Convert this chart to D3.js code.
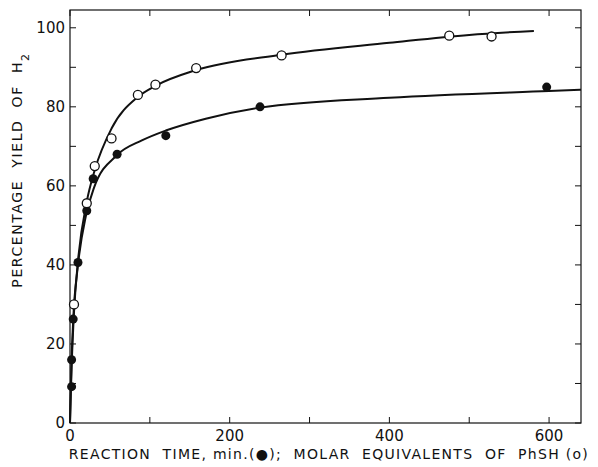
<!DOCTYPE html>
<html>
<head>
<meta charset="utf-8">
<script src="https://cdn.jsdelivr.net/npm/d3@7"></script>
<style>
  body { margin: 0; background: #fff; }
  svg text { font-family: "DejaVu Sans", sans-serif; fill: #111; white-space: pre; }
</style>
</head>
<body>
<svg id="chart" width="598" height="467"></svg>
<script>
// filled circles: reaction time (min) vs yield
var timeX = [2, 2, 4, 10, 21, 29, 59, 120, 238, 597];
var timeY = [9.2, 16, 26.3, 40.6, 53.7, 61.8, 68, 72.7, 80, 85];
// open circles: molar equivalents PhSH vs yield
var equivX = [5, 21, 31, 52, 85, 107, 158, 265, 475, 528];
var equivY = [30, 55.6, 65, 72, 83, 85.6, 89.8, 93, 98, 97.8];

// drawn fit curves
var timeCurveX = [0, 1, 2, 4, 10, 20, 30, 59, 90, 120, 170, 238, 400, 600, 640];
var timeCurveY = [0, 9, 16, 26, 40, 52.5, 59.5, 67.8, 71.5, 74, 77, 79.8, 82.3, 84, 84.3];
var equivCurveX = [0, 2, 5, 10, 21, 31, 52, 85, 107, 158, 265, 400, 500, 581];
var equivCurveY = [0, 14, 28, 41, 56, 64, 74.5, 82.5, 85.3, 89.3, 93.2, 96.2, 98.2, 99.2];

var xTicks = [0, 200, 400, 600];
var yTicks = [0, 20, 40, 60, 80, 100];

var svg = d3.select("#chart");
var plotL = 70, plotR = 581, plotT = 10, plotB = 423;

var x = d3.scaleLinear().domain([0, 640]).range([plotL, plotR]);
var y = d3.scaleLinear().domain([0, 104.5]).range([plotB, plotT]);

// frame
svg.append("rect")
   .attr("x", plotL).attr("y", plotT)
   .attr("width", plotR - plotL).attr("height", plotB - plotT)
   .attr("fill", "none").attr("stroke", "#111").attr("stroke-width", 1.2);

// inward ticks on all four sides
var tickLen = 6;
var g = svg.append("g").attr("stroke", "#111").attr("stroke-width", 1);
d3.range(0, 101, 10).forEach(function(v) {
    g.append("line").attr("x1", plotL).attr("x2", plotL + tickLen).attr("y1", y(v)).attr("y2", y(v));
    g.append("line").attr("x1", plotR).attr("x2", plotR - tickLen).attr("y1", y(v)).attr("y2", y(v));
});
d3.range(0, 601, 100).forEach(function(v) {
    g.append("line").attr("x1", x(v)).attr("x2", x(v)).attr("y1", plotB).attr("y2", plotB - tickLen);
    g.append("line").attr("x1", x(v)).attr("x2", x(v)).attr("y1", plotT).attr("y2", plotT + tickLen);
});

// tick labels
svg.selectAll(".ylab").data(yTicks).join("text")
   .attr("class", "ylab")
   .attr("x", plotL - 5).attr("y", function(d) { return y(d) + 5; })
   .attr("text-anchor", "end").attr("font-size", 15)
   .text(function(d) { return d; });

svg.selectAll(".xlab").data(xTicks).join("text")
   .attr("class", "xlab")
   .attr("x", function(d) { return x(d); }).attr("y", plotB + 18)
   .attr("text-anchor", "middle").attr("font-size", 15)
   .text(function(d) { return d; });

// axis titles
svg.append("text")
   .attr("x", 329).attr("y", 459)
   .attr("text-anchor", "middle").attr("font-size", 14)
   .attr("letter-spacing", 1.3)
   .text("REACTION  TIME, min.(\u25CF);  MOLAR  EQUIVALENTS  OF  PhSH (o)");

var yt = svg.append("text")
   .attr("transform", "translate(22,170) rotate(-90)")
   .attr("text-anchor", "middle").attr("font-size", 14)
   .attr("letter-spacing", 1.6);
yt.append("tspan").text("PERCENTAGE  YIELD  OF  H");
yt.append("tspan").attr("baseline-shift", "sub").attr("font-size", 11).text("2");

// fitted curves
var line = d3.line()
   .x(function(d) { return x(d[0]); })
   .y(function(d) { return y(d[1]); })
   .curve(d3.curveMonotoneX);

svg.append("path")
   .attr("d", line(d3.zip(timeCurveX, timeCurveY)))
   .attr("fill", "none").attr("stroke", "#111").attr("stroke-width", 2);
svg.append("path")
   .attr("d", line(d3.zip(equivCurveX, equivCurveY)))
   .attr("fill", "none").attr("stroke", "#111").attr("stroke-width", 2);

// points
svg.selectAll(".filled").data(d3.zip(timeX, timeY)).join("circle")
   .attr("class", "filled")
   .attr("cx", function(d) { return x(d[0]); })
   .attr("cy", function(d) { return y(d[1]); })
   .attr("r", 4.5).attr("fill", "#111");

svg.selectAll(".open").data(d3.zip(equivX, equivY)).join("circle")
   .attr("class", "open")
   .attr("cx", function(d) { return x(d[0]); })
   .attr("cy", function(d) { return y(d[1]); })
   .attr("r", 4.5).attr("fill", "#fff").attr("stroke", "#111").attr("stroke-width", 1.3);
</script>
</body>
</html>
